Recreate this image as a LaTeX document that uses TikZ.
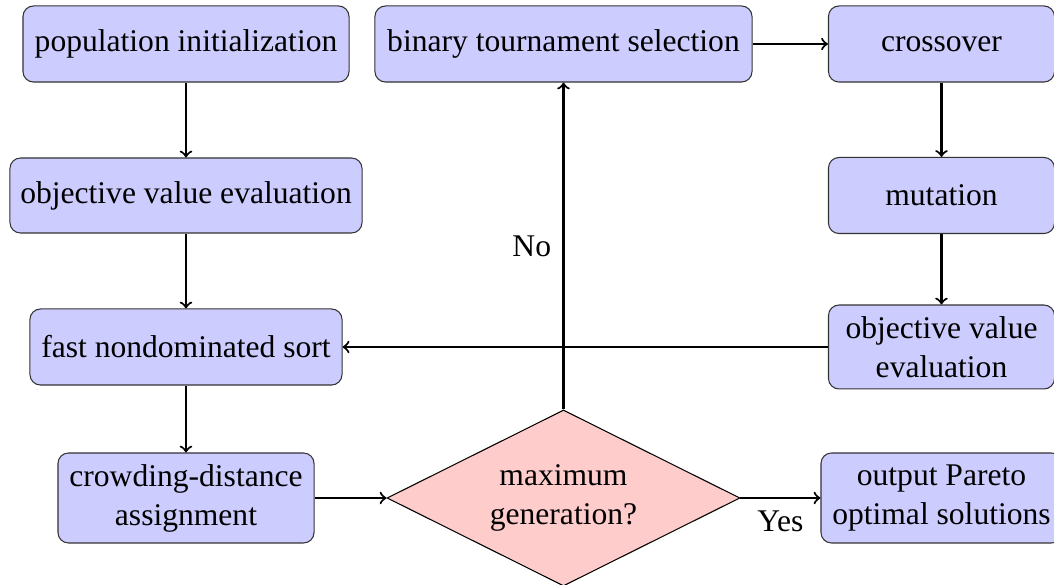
\documentclass[tikz,border=0pt]{standalone}
\usepackage{fontspec}
\setmainfont{Liberation Serif}
\usetikzlibrary{shapes.geometric}
\begin{document}
\begin{tikzpicture}[x=0.38pt,y=-0.38pt,
  every node/.style={font=\fontsize{12pt}{14.8pt}\selectfont},
  procbox/.style={draw=black!80, fill=blue!20, rounded corners=4pt,
    align=center, inner sep=2pt, minimum height=28.9pt},
  decbox/.style={draw=black, fill=red!20, diamond, aspect=2, align=center,
    inner sep=0pt, minimum width=134.1pt, minimum height=66.9pt},
  flow/.style={->, thick}]
\useasboundingbox (0,0) rectangle (1054,585);

% left column
\node[procbox, minimum width=123.9pt] (pop) at (186,44) {population initialization};
\node[procbox, minimum width=133.8pt, minimum height=28.5pt] (obja) at (186,195.5) {objective value evaluation};
\node[procbox, minimum width=118.6pt] (sort) at (186,347) {fast nondominated sort};
\node[procbox, minimum width=97.3pt, minimum height=34.2pt] (crowd) at (186,498) {crowding-distance\\assignment};

% middle column
\node[procbox, minimum width=143.3pt] (sel) at (563.5,44) {binary tournament selection};
\node[decbox] (dec) at (563.5,498) {maximum\\generation?};

% right column
\node[procbox, minimum width=85.9pt] (cross) at (941.5,44) {crossover};
\node[procbox, minimum width=85.9pt] (mut) at (941.5,195.5) {mutation};
\node[procbox, minimum width=85.9pt, minimum height=31.9pt] (objb) at (941.5,347) {objective value\\evaluation};
\node[procbox, minimum width=91.6pt, minimum height=34.2pt] (out) at (941.5,498) {output Pareto\\optimal solutions};

% connectors
\draw[flow] (pop) -- (obja);
\draw[flow] (obja) -- (sort);
\draw[flow] (sort) -- (crowd);
\draw[flow] (crowd) -- (dec);
\draw[flow] (dec) -- (sel) node[pos=0.5, left=1pt] {No};
\draw[flow] (sel) -- (cross);
\draw[flow] (cross) -- (mut);
\draw[flow] (mut) -- (objb);
\draw[flow] (objb) -- (sort);
\draw[flow] (dec) -- (out) node[midway, below=1pt] {Yes};
\end{tikzpicture}
\end{document}
